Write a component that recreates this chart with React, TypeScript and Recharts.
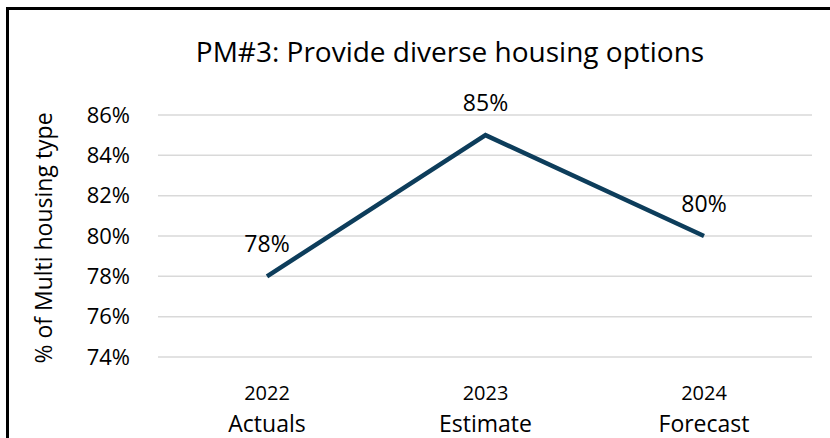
import { LineChart, Line, XAxis, YAxis, CartesianGrid, LabelList } from "recharts";

const years = ["2022", "2023", "2024"];
const stages = ["Actuals", "Estimate", "Forecast"];
const multiShare = [78, 85, 80];
const yTicks = [74, 76, 78, 80, 82, 84, 86];

const data = years.map((y, i) => ({ year: y, stage: stages[i], value: multiShare[i] }));

const FONT = "'Open Sans', sans-serif";

function YearTick({ x, y, payload }: { x?: number; y?: number; payload?: { value: string; index: number } }) {
  if (!payload) return null;
  const row = data.find((d) => d.year === payload.value);
  return (
    <g transform={`translate(${x},${y})`}>
      <text textAnchor="middle" y={35} fontSize={20} fill="#000" fontFamily={FONT}>
        {payload.value}
      </text>
      <text textAnchor="middle" y={67} fontSize={23} fill="#000" fontFamily={FONT}>
        {row?.stage}
      </text>
    </g>
  );
}

function YTitle({ viewBox }: { viewBox?: { x: number; y: number; height: number } }) {
  const cy = viewBox ? viewBox.y + viewBox.height / 2 + 2 : 238;
  return (
    <text
      x={52}
      y={cy}
      transform={`rotate(-90, 52, ${cy})`}
      textAnchor="middle"
      fontSize={23}
      fill="#000"
      fontFamily={FONT}
    >
      % of Multi housing type
    </text>
  );
}

export default function App() {
  return (
    <div style={{ position: "absolute", left: 0, top: 0, width: 830, height: 438, overflow: "hidden", background: "#fff" }}>
      <div
        style={{
          position: "absolute", left: 6, top: 7, width: 900, height: 500,
          borderLeft: "3px solid #000", borderTop: "3px solid #000",
        }}
      />
      <div
        style={{
          position: "absolute", left: 0, top: 32, width: 900, textAlign: "center",
          fontFamily: FONT, fontSize: 28, color: "#000", lineHeight: "38px",
        }}
      >
        PM#3: Provide diverse housing options
      </div>
      <LineChart
        width={830}
        height={438}
        data={data}
        margin={{ top: 115, right: 18, bottom: 0, left: 0 }}
        style={{ position: "absolute", left: 0, top: 0 }}
      >
        <CartesianGrid vertical={false} stroke="#d9d9d9" strokeWidth={1.5} />
        <XAxis
          dataKey="year"
          axisLine={false}
          tickLine={false}
          tick={<YearTick />}
          interval={0}
          height={81}
          padding={{ left: 109, right: 108 }}
        />
        <YAxis
          domain={[74, 86]}
          ticks={yTicks}
          interval={0}
          width={158}
          axisLine={false}
          tickLine={false}
          tickSize={0}
          tickMargin={28}
          tickFormatter={(v: number) => `${v}%`}
          tick={{ fontSize: 22, fill: "#000", fontFamily: FONT }}
          label={<YTitle />}
        />
        <Line
          type="linear"
          dataKey="value"
          stroke="#0d3d5b"
          strokeWidth={4.5}
          dot={false}
          isAnimationActive={false}
        >
          <LabelList
            dataKey="value"
            position="top"
            offset={24}
            formatter={(v: number) => `${v}%`}
            style={{ fontSize: 23, fill: "#000", fontFamily: FONT }}
          />
        </Line>
      </LineChart>
    </div>
  );
}
